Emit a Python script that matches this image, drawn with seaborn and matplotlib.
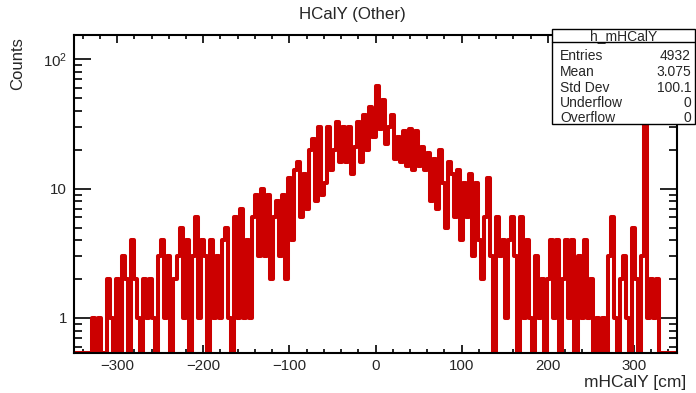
import numpy as np
import pandas as pd
import matplotlib
matplotlib.use("Agg")
import matplotlib.pyplot as plt
import seaborn as sns
from matplotlib.ticker import (MultipleLocator, LogLocator, FixedLocator,
                               FixedFormatter, NullFormatter)
from matplotlib.patches import Rectangle
from matplotlib.lines import Line2D

# ---------------- data ----------------
x_min, x_max, n_bins = -350.0, 350.0, 200

counts_left_tail = [0, 0, 0, 0, 0, 0, 1, 0, 1, 0,
                    0, 2, 1, 0, 2, 0, 3, 2, 0, 4,
                    2, 1, 0, 2, 1, 2, 1, 0, 3, 4,
                    1, 3, 0, 2, 3, 5, 1, 4, 0, 3,
                    6, 1, 4, 3, 0, 4, 1, 3, 1, 4]
counts_left_core = [5, 1, 0, 6, 1, 7, 1, 4, 1, 6,
                    9, 3, 10, 3, 9, 2, 6, 8, 3, 9,
                    2, 12, 4, 14, 16, 6, 13, 7, 20, 24,
                    8, 30, 9, 11, 30, 14, 20, 33, 16, 30,
                    16, 30, 13, 21, 33, 16, 37, 20, 43, 25]
counts_right_core = [62, 29, 48, 22, 30, 37, 17, 25, 16, 28,
                     15, 29, 14, 28, 15, 21, 14, 19, 8, 17,
                     7, 20, 11, 5, 16, 13, 6, 14, 4, 11,
                     6, 13, 3, 11, 4, 2, 6, 12, 3, 0,
                     6, 3, 4, 1, 4, 6, 3, 0, 6, 1]
counts_right_tail = [4, 1, 0, 3, 1, 2, 0, 2, 4, 1,
                     4, 0, 2, 4, 1, 4, 0, 3, 1, 4,
                     1, 2, 0, 1, 0, 1, 0, 3, 6, 1,
                     0, 2, 3, 1, 0, 5, 2, 0, 3, 45,
                     1, 2, 1, 2, 0, 0, 0, 0, 0, 0]

stat_labels = ["Entries", "Mean", "Std Dev", "Underflow", "Overflow"]
stat_values = ["4932", "3.075", "100.1", "0", "0"]
hist_name = "h_mHCalY"
title_text = "HCalY (Other)"
x_label = "mHCalY [cm]"
y_label = "Counts"
x_ticks = [-300, -200, -100, 0, 100, 200, 300]
y_ticks = [1, 10, 100]
y_tick_labels = ["1", "10", r"$\mathregular{10^{2}}$"]
y_lo, y_hi = 0.536, 154.0

# ---------------- figure ----------------
sns.set_style("white")
plt.rcParams["font.family"] = ["Liberation Sans", "DejaVu Sans"]
plt.rcParams["mathtext.fontset"] = "custom"
plt.rcParams["mathtext.rm"] = "Liberation Sans"

W, H = 696, 393
fig = plt.figure(figsize=(W / 100, H / 100), dpi=100)
L, R, T, B = 74, 677, 35, 353
ax = fig.add_axes([L / W, 1 - B / H, (R - L) / W, (B - T) / H])

counts = np.array(counts_left_tail + counts_left_core + counts_right_core + counts_right_tail, dtype=float)
bin_w = (x_max - x_min) / n_bins
centers = x_min + bin_w * (np.arange(n_bins) + 0.5)
# ROOT draws empty bins on the lower frame edge of a log axis
df = pd.DataFrame({"x": centers, "w": np.where(counts > 0, counts, y_lo)})

ax.set_yscale("log")
sns.histplot(data=df, x="x", weights="w", bins=n_bins, binrange=(x_min, x_max),
             element="step", fill=False, color="#cc0000", linewidth=2.9, ax=ax)

ax.set_xlim(x_min, x_max)
ax.set_ylim(y_lo, y_hi)
ax.set_xlabel("")
ax.set_ylabel("")

ax.xaxis.set_major_locator(FixedLocator(x_ticks))
ax.xaxis.set_minor_locator(MultipleLocator(20))
ax.yaxis.set_major_locator(FixedLocator(y_ticks))
ax.yaxis.set_major_formatter(FixedFormatter(y_tick_labels))
ax.yaxis.set_minor_locator(LogLocator(base=10, subs=np.arange(2, 10)))
ax.yaxis.set_minor_formatter(NullFormatter())

ax.tick_params(axis="both", which="both", direction="in", top=True, right=True,
               bottom=True, left=True, color="black", width=1.2)
ax.tick_params(axis="x", which="major", length=6, labelsize=10.8, pad=4)
ax.tick_params(axis="x", which="minor", length=3)
ax.tick_params(axis="y", which="major", length=12, labelsize=10.8, pad=5)
ax.tick_params(axis="y", which="minor", length=6)
for s in ax.spines.values():
    s.set_color("black")
    s.set_linewidth(1.5)

fig.text(352 / W, 1 - 14 / H, title_text, ha="center", va="center", fontsize=12.2)
fig.text(686 / W, 1 - 383 / H, x_label, ha="right", va="center", fontsize=12.5)
fig.text(18 / W, 1 - 37 / H, y_label, rotation=90, ha="center", va="top", fontsize=12)

# ---------------- stats box ----------------
bx0, bx1, by0, by1 = 552, 695, 29, 124
fig.add_artist(Rectangle((bx0 / W, 1 - by1 / H), (bx1 - bx0) / W, (by1 - by0) / H,
                         transform=fig.transFigure, facecolor="white",
                         edgecolor="black", linewidth=1.0, zorder=10))
fig.add_artist(Line2D([bx0 / W, bx1 / W], [1 - 42 / H, 1 - 42 / H],
                      transform=fig.transFigure, color="black", linewidth=1.0, zorder=11))
fig.text((bx0 + bx1) / 2 / W, 1 - 40 / H, hist_name, ha="center", va="baseline",
         fontsize=10, zorder=12)
for i, (lab, val) in enumerate(zip(stat_labels, stat_values)):
    yb = 1 - (60.5 + 15.5 * i) / H
    fig.text(560 / W, yb, lab, ha="left", va="baseline", fontsize=10, zorder=12)
    fig.text(691 / W, yb, val, ha="right", va="baseline", fontsize=10, zorder=12)

fig.savefig("out.png", dpi=100)
